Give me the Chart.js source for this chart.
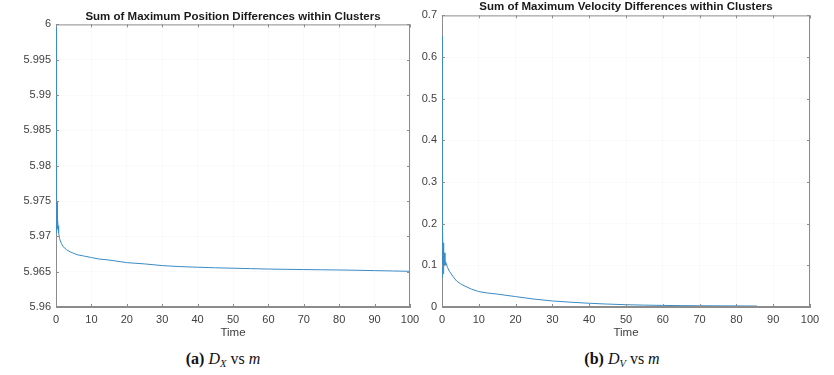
<!DOCTYPE html>
<html>
<head>
<meta charset="utf-8">
<script src="https://cdn.jsdelivr.net/npm/chart.js@4/dist/chart.umd.min.js"></script>
<style>
  html, body { margin: 0; padding: 0; background: #fff; }
  body { width: 834px; height: 375px; position: relative; overflow: hidden; }
  .wrap { position: absolute; top: 0; }
  #w1 { left: 0; width: 420px; height: 345px; }
  #w2 { left: 420px; width: 414px; height: 345px; }
  .cap { position: absolute; top: 350px; font-family: "Liberation Serif", "DejaVu Serif", serif; font-size: 16px; color: #111; text-align: center; width: 300px; }
  .cap b { font-weight: bold; }
  .cap i { font-style: italic; }
  .cap sub { font-size: 10.5px; vertical-align: -3px; line-height: 0; }
</style>
</head>
<body>
<div class="wrap" id="w1"><canvas id="c1" width="420" height="345"></canvas></div>
<div class="wrap" id="w2"><canvas id="c2" width="414" height="345"></canvas></div>
<div class="cap" style="left:73px;"><b>(a)</b> <i>D<sub>X</sub></i> vs <i>m</i></div>
<div class="cap" style="left:472px;"><b>(b)</b> <i>D<sub>V</sub></i> vs <i>m</i></div>
<script>
// ---- data ----
const titleX = 'Sum of Maximum Position Differences within Clusters';
const titleV = 'Sum of Maximum Velocity Differences within Clusters';
const xAxisTitle = 'Time';

const timeX = [0, 0.05, 0.1, 0.15, 0.2, 0.25, 0.3, 0.35, 0.4, 0.45, 0.5, 0.6, 0.7, 0.8, 1, 1.5, 2, 3, 4, 5, 6, 8, 10, 12, 15, 20, 25, 30, 35, 40, 45, 50, 55, 60, 65, 70, 75, 80, 85, 90, 95, 100];
const posDiff = [6, 5.9705, 5.982, 5.9712, 5.9755, 5.9715, 5.9748, 5.971, 5.9733, 5.9712, 5.9725, 5.9712, 5.9715, 5.9705, 5.9697, 5.969, 5.96855, 5.9681, 5.9678, 5.9676, 5.9674, 5.9672, 5.967, 5.9668, 5.96665, 5.96628, 5.9661, 5.96586, 5.96572, 5.96563, 5.96555, 5.96549, 5.96543, 5.96537, 5.96533, 5.9653, 5.96527, 5.96524, 5.9652, 5.96515, 5.9651, 5.96505];

const timeV = [0, 0.05, 0.1, 0.15, 0.2, 0.3, 0.4, 0.5, 0.6, 0.8, 1, 1.5, 2, 3, 4, 5, 6, 8, 10, 12, 15, 20, 25, 30, 35, 40, 45, 50, 55, 60, 65, 70, 75, 80, 85.5, 86, 90, 95, 100];
const velDiff = [0.65, 0.07, 0.33, 0.09, 0.21, 0.08, 0.154, 0.1, 0.13, 0.1, 0.108, 0.095, 0.086, 0.073, 0.062, 0.056, 0.051, 0.043, 0.037, 0.034, 0.031, 0.025, 0.019, 0.0145, 0.0115, 0.009, 0.007, 0.0055, 0.0045, 0.0038, 0.0033, 0.003, 0.0028, 0.0026, 0.0024, 0, 0, 0, 0];

const xTicks = [0, 10, 20, 30, 40, 50, 60, 70, 80, 90, 100];
const xTickLabels = ['0', '10', '20', '30', '40', '50', '60', '70', '80', '90', '100'];
const yTicksX = [5.96, 5.965, 5.97, 5.975, 5.98, 5.985, 5.99, 5.995, 6];
const yTickLabelsX = ['5.96', '5.965', '5.97', '5.975', '5.98', '5.985', '5.99', '5.995', '6'];
const yTicksV = [0, 0.1, 0.2, 0.3, 0.4, 0.5, 0.6, 0.7];
const yTickLabelsV = ['0', '0.1', '0.2', '0.3', '0.4', '0.5', '0.6', '0.7'];

// ---- style ----
const LINE = '#3a8cc4';
const AXIS = '#8c8c8c';
const TXT = '#404040';
const GRID = 'rgba(0,0,0,0.02)';

const boxPlugin = {
  id: 'box',
  afterDraw(chart) {
    const {ctx, chartArea: a, scales} = chart;
    ctx.save();
    ctx.strokeStyle = AXIS;
    ctx.lineWidth = 1;
    ctx.beginPath();
    ctx.moveTo(a.left, a.top + 0.5); ctx.lineTo(a.right, a.top + 0.5);
    ctx.moveTo(a.right - 0.5, a.top); ctx.lineTo(a.right - 0.5, a.bottom);
    ctx.moveTo(a.left, a.bottom - 0.5); ctx.lineTo(a.right, a.bottom - 0.5);
    ctx.stroke();
    const tl = 3;
    ctx.beginPath();
    scales.x.ticks.forEach(t => {
      const px = Math.round(scales.x.getPixelForValue(t.value)) + 0.5;
      ctx.moveTo(px, a.bottom); ctx.lineTo(px, a.bottom - tl);
      ctx.moveTo(px, a.top); ctx.lineTo(px, a.top + tl);
    });
    scales.y.ticks.forEach(t => {
      const py = Math.round(scales.y.getPixelForValue(t.value)) + 0.5;
      ctx.moveTo(a.left, py); ctx.lineTo(a.left + tl, py);
      ctx.moveTo(a.right, py); ctx.lineTo(a.right - tl, py);
    });
    ctx.stroke();
    ctx.restore();
  }
};

function makeChart(id, times, vals, title, yTicks, yLabels, yMin, yMax, yWidth, padRight, titlePad) {
  const data = times.map((t, i) => ({x: t, y: vals[i]}));
  return new Chart(document.getElementById(id), {
    type: 'line',
    data: { datasets: [{ data, borderColor: LINE, borderWidth: 1, pointRadius: 0, tension: 0, fill: false }] },
    options: {
      responsive: false,
      animation: false,
      layout: { padding: { left: 0, right: padRight, top: 0, bottom: 0 } },
      plugins: {
        legend: { display: false },
        tooltip: { enabled: false },
        title: {
          display: true, text: title, fullSize: false, color: '#1a1a1a',
          font: { family: '"Liberation Sans", Arial, sans-serif', size: 11.5, weight: 'bold', lineHeight: 1.2 },
          padding: titlePad
        }
      },
      scales: {
        x: {
          type: 'linear', min: 0, max: 100,
          afterBuildTicks: s => { s.ticks = xTicks.map(v => ({value: v})); },
          afterFit: s => { s.height = 38; s.paddingLeft = 0; s.paddingRight = 0; },
          grid: { color: GRID, drawTicks: false },
          border: { color: AXIS },
          ticks: {
            padding: 6, color: TXT, maxRotation: 0, autoSkip: false,
            font: { family: '"Liberation Sans", Arial, sans-serif', size: 11 },
            callback: (v) => xTickLabels[xTicks.indexOf(v)]
          },
          title: { display: true, text: xAxisTitle, color: TXT, padding: { top: 0, bottom: 5 },
                   font: { family: '"Liberation Sans", Arial, sans-serif', size: 11.5, lineHeight: 1.2 } }
        },
        y: {
          type: 'linear', min: yMin, max: yMax,
          afterBuildTicks: s => { s.ticks = yTicks.map(v => ({value: v})); },
          afterFit: s => { s.width = yWidth; s.paddingTop = 0; s.paddingBottom = 0; },
          grid: { color: GRID, drawTicks: false },
          border: { color: AXIS },
          ticks: {
            padding: 5, color: TXT, autoSkip: false,
            font: { family: '"Liberation Sans", Arial, sans-serif', size: 11 },
            callback: (v) => { const i = yTicks.findIndex(t => Math.abs(t - v) < 1e-9); return i >= 0 ? yLabels[i] : ''; }
          }
        }
      }
    },
    plugins: [boxPlugin]
  });
}

makeChart('c1', timeX, posDiff, titleX, yTicksX, yTickLabelsX, 5.96, 6, 56, 10, { top: 9.8, bottom: 0.8 });
makeChart('c2', timeV, velDiff, titleV, yTicksV, yTickLabelsV, 0, 0.7, 22, 24, { top: 0, bottom: 1.6 });
</script>
</body>
</html>
